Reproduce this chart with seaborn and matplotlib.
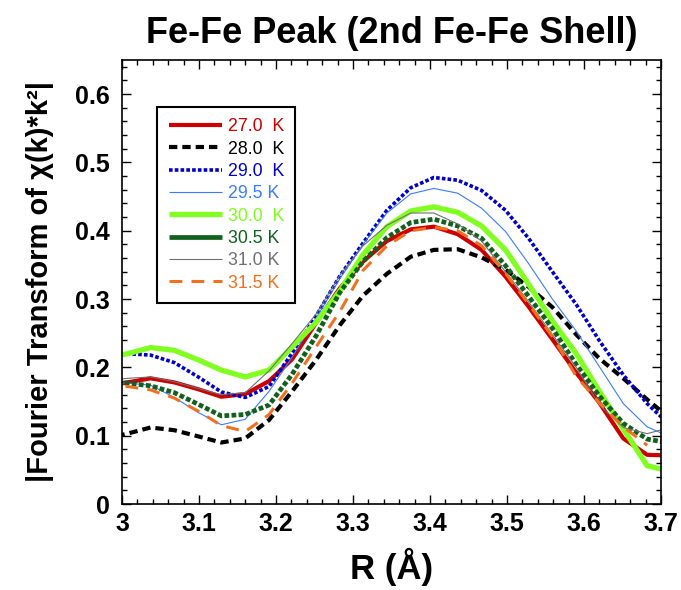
import matplotlib
matplotlib.use("Agg")
import matplotlib.pyplot as plt
import seaborn as sns
import pandas as pd
from matplotlib.lines import Line2D
from matplotlib.ticker import MultipleLocator, FormatStrFormatter

# ---------------- data ----------------
R = [2.976, 3.007, 3.037, 3.068, 3.099, 3.129, 3.160, 3.191, 3.221, 3.252,
     3.283, 3.313, 3.344, 3.375, 3.405, 3.436, 3.467, 3.498, 3.528, 3.559,
     3.590, 3.620, 3.651, 3.682, 3.712]

t27_0 = [0.172, 0.178, 0.184, 0.178, 0.168, 0.157, 0.161, 0.180, 0.212, 0.265,
         0.316, 0.355, 0.385, 0.402, 0.406, 0.395, 0.372, 0.333, 0.289, 0.241,
         0.192, 0.148, 0.096, 0.072, 0.071]
t28_0 = [0.095, 0.103, 0.112, 0.108, 0.099, 0.090, 0.096, 0.123, 0.165, 0.211,
         0.262, 0.305, 0.337, 0.362, 0.372, 0.373, 0.361, 0.343, 0.318, 0.288,
         0.248, 0.213, 0.184, 0.153, 0.125]
t29_0 = [0.219, 0.220, 0.218, 0.207, 0.186, 0.164, 0.156, 0.172, 0.221, 0.275,
         0.334, 0.382, 0.430, 0.463, 0.478, 0.474, 0.459, 0.430, 0.389, 0.340,
         0.292, 0.239, 0.189, 0.147, 0.115]
t29_5 = [0.177, 0.177, 0.174, 0.156, 0.134, 0.116, 0.124, 0.165, 0.215, 0.272,
         0.330, 0.380, 0.426, 0.454, 0.462, 0.455, 0.433, 0.399, 0.352, 0.300,
         0.253, 0.201, 0.147, 0.113, 0.098]
t30_0 = [0.213, 0.220, 0.229, 0.225, 0.211, 0.196, 0.186, 0.196, 0.230, 0.266,
         0.312, 0.365, 0.406, 0.429, 0.435, 0.427, 0.407, 0.372, 0.322, 0.268,
         0.220, 0.165, 0.110, 0.056, 0.048]
t30_5 = [0.176, 0.177, 0.173, 0.163, 0.146, 0.129, 0.131, 0.145, 0.190, 0.246,
         0.310, 0.355, 0.390, 0.412, 0.417, 0.407, 0.389, 0.349, 0.304, 0.257,
         0.204, 0.158, 0.118, 0.095, 0.089]
t31_0 = [0.180, 0.184, 0.186, 0.179, 0.169, 0.160, 0.163, 0.195, 0.235, 0.278,
         0.335, 0.378, 0.408, 0.426, 0.426, 0.410, 0.385, 0.340, 0.296, 0.248,
         0.200, 0.145, 0.112, 0.103, 0.112]
t31_5 = [0.174, 0.172, 0.167, 0.155, 0.136, 0.115, 0.106, 0.131, 0.177, 0.230,
         0.282, 0.342, 0.378, 0.400, 0.405, 0.400, 0.378, 0.338, 0.293, 0.245,
         0.187, 0.148, 0.113, 0.086]

labels = ["27.0  K", "28.0  K", "29.0  K", "29.5 K", "30.0  K", "30.5 K", "31.0 K", "31.5 K"]
series = [t27_0, t28_0, t29_0, t29_5, t30_0, t30_5, t31_0, t31_5]

title = "Fe-Fe Peak (2nd Fe-Fe Shell)"
xlabel = "R (Å)"
ylabel = "|Fourier Transform of χ(k)*k²|"

# ---------------- styles ----------------
colors = ["#cc0000", "#000000", "#0000cc", "#3a7cff", "#80ff20", "#11601d", "#707070", "#f07020"]
widths = [3.0, 3.0, 2.6, 0.8, 3.8, 3.4, 0.8, 2.2]
styles = ["-", (0, (2.0, 1.2)), (0, (1.0, 0.6)), "-", "-", (0, (1.0, 0.5)), "-", (0, (4.2, 3.0))]
legend_styles = ["-", (0, (2.0, 1.2)), (0, (1.0, 0.6)), "-", "-", "-", "-", (0, (4.2, 3.0))]

sns.set_theme(style="ticks")
plt.rcParams["font.family"] = ["Liberation Sans", "DejaVu Sans"]
plt.rcParams["text.color"] = "black"
plt.rcParams["axes.labelcolor"] = "black"
plt.rcParams["xtick.color"] = "black"
plt.rcParams["ytick.color"] = "black"

fig = plt.figure(figsize=(6.81, 5.90), dpi=100)
ax = fig.add_axes([122 / 681, 86 / 590, 539 / 681, 444 / 590])

for vals, lab, c, lw, ls in zip(series, labels, colors, widths, styles):
    df = pd.DataFrame({"R": R[:len(vals)], "FT": vals})
    sns.lineplot(data=df, x="R", y="FT", ax=ax, color=c, linewidth=lw,
                 linestyle=ls, dash_capstyle="butt", solid_capstyle="butt",
                 legend=False)

ax.set_xlim(3.0, 3.7)
ax.set_ylim(0, 0.65)
ax.xaxis.set_major_locator(MultipleLocator(0.1))
ax.xaxis.set_minor_locator(MultipleLocator(0.02))
ax.yaxis.set_major_locator(MultipleLocator(0.1))
ax.yaxis.set_minor_locator(MultipleLocator(0.02))
ax.xaxis.set_major_formatter(FormatStrFormatter("%g"))
ax.yaxis.set_major_formatter(FormatStrFormatter("%g"))

ax.tick_params(which="both", direction="in", top=True, right=True,
               width=1.0, color="black", labelcolor="black")
ax.tick_params(which="major", length=6.5)
ax.tick_params(which="minor", length=3.5)
ax.tick_params(axis="y", which="major", pad=9)
ax.tick_params(axis="x", which="major", pad=6)
for lbl in ax.get_xticklabels() + ax.get_yticklabels():
    lbl.set_fontsize(18)
    lbl.set_fontweight("bold")
for sp in ax.spines.values():
    sp.set_color("black")
    sp.set_linewidth(1.2)

ax.set_title(title, fontsize=26, fontweight="bold", pad=12, color="black")
ax.set_xlabel(xlabel, fontsize=25, fontweight="bold", color="black")
ax.set_ylabel(ylabel, fontsize=21, fontweight="bold", color="black")
ax.xaxis.label.set_va("center")
ax.xaxis.set_label_coords(0.5, (504 - 567) / 444)
ax.yaxis.label.set_va("center")
ax.yaxis.set_label_coords((40 - 122) / 539, 0.5)

handles = [Line2D([0], [0], color=c, lw=lw, linestyle=ls, dash_capstyle="butt",
                  solid_capstyle="butt")
           for c, lw, ls in zip(colors, widths, legend_styles)]
leg = ax.legend(handles, labels, loc="upper left",
                bbox_to_anchor=((157.3 - 122) / 539, (504 - 106.7) / 444),
                borderaxespad=0, fontsize=12.8, handlelength=3.0, handletextpad=0.3,
                borderpad=0.65, labelspacing=0.3, fancybox=False, framealpha=1,
                edgecolor="black", labelcolor=colors)
leg.get_frame().set_linewidth(1.5)

fig.savefig("out.png", dpi=100)
